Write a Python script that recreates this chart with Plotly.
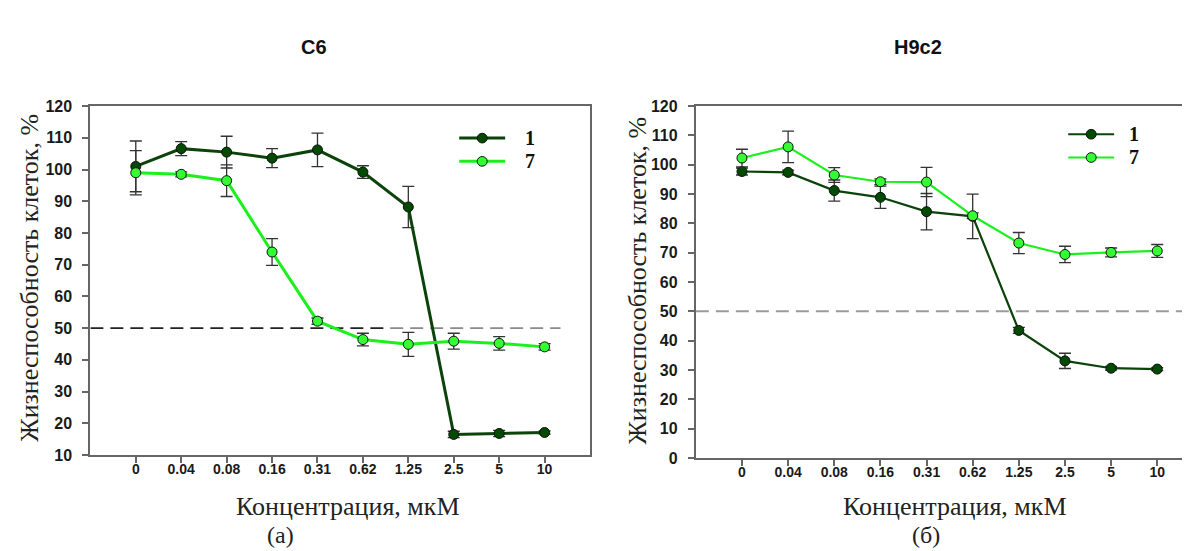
import plotly.graph_objects as go

# ---------------- data ----------------
conc_labels = ["0", "0.04", "0.08", "0.16", "0.31", "0.62", "1.25", "2.5", "5", "10"]

# Panel (а) C6
c6_s1 = [101.0, 106.6, 105.5, 103.6, 106.2, 99.2, 88.2, 16.5, 16.8, 17.1]
c6_s1_err = [8.0, 2.2, 5.0, 3.0, 5.3, 2.0, 6.5, 1.0, 1.0, 0.5]
c6_s7 = [99.0, 98.5, 96.5, 74.0, 52.2, 46.4, 44.9, 45.9, 45.2, 44.1]
c6_s7_err = [7.0, 0.8, 5.0, 4.2, 1.0, 2.0, 3.8, 2.5, 2.1, 1.0]

# Panel (б) H9c2
h9_s1 = [97.7, 97.4, 91.2, 88.9, 84.0, 82.4, 43.5, 33.1, 30.6, 30.3]
h9_s1_err = [1.2, 0.8, 3.6, 3.8, 6.2, 7.6, 1.0, 2.6, 0.6, 0.5]
h9_s7 = [102.3, 106.1, 96.5, 94.2, 94.1, 82.6, 73.3, 69.4, 70.1, 70.6]
h9_s7_err = [3.0, 5.4, 2.5, 1.0, 5.0, 1.0, 3.6, 2.8, 1.5, 2.2]

series_names = ["1", "7"]
threshold = 50

# ---------------- styling ----------------
DARK_LINE = "#0b430b"
DARK_MARK = "#014a01"
LIGHT_LINE = "#1af01a"
LIGHT_MARK = "#33ff33"
ERR_COLOR = "#333333"
AXIS_COLOR = "#666666"

W, H = 1190, 551

def px_x(p):
    return p / W

def px_y(p):
    return 1 - p / H

fig = go.Figure()

def add_series(x, y, err, name, xa, ya, line_color, mark_color, lw):
    fig.add_trace(go.Scatter(
        x=x, y=y, name=name, mode="lines+markers",
        xaxis=xa, yaxis=ya, showlegend=False,
        line=dict(color=line_color, width=lw),
        marker=dict(size=10, color=mark_color, line=dict(color="#111111", width=1)),
        error_y=dict(type="data", array=err, visible=True, color=ERR_COLOR,
                     thickness=1.3, width=6),
        cliponaxis=False,
    ))

add_series(conc_labels, c6_s1, c6_s1_err, series_names[0], "x", "y", DARK_LINE, DARK_MARK, 3)
add_series(conc_labels, c6_s7, c6_s7_err, series_names[1], "x", "y", LIGHT_LINE, LIGHT_MARK, 3)
add_series(conc_labels, h9_s1, h9_s1_err, series_names[0], "x2", "y2", DARK_LINE, DARK_MARK, 2.2)
add_series(conc_labels, h9_s7, h9_s7_err, series_names[1], "x2", "y2", LIGHT_LINE, LIGHT_MARK, 2.2)

sans = "Liberation Sans, Arial, sans-serif"
serif = "Liberation Serif, Times New Roman, serif"

tick_font = dict(family=sans, size=16, color="#1a1a1a", weight="bold")
xtick_font = dict(family=sans, size=14, color="#1a1a1a", weight="bold")

common_x = dict(type="category", categoryorder="array", categoryarray=conc_labels,
                showline=True, linecolor=AXIS_COLOR, linewidth=2, mirror=True,
                ticks="outside", ticklen=6, tickwidth=1.5, tickcolor=AXIS_COLOR,
                showgrid=False, zeroline=False, tickfont=xtick_font, fixedrange=True,
                ticklabelstandoff=-6)
common_y = dict(showline=True, linecolor=AXIS_COLOR, linewidth=2, mirror=True,
                ticks="outside", ticklen=6, tickwidth=1.5, tickcolor=AXIS_COLOR,
                showgrid=False, zeroline=False, tickfont=tick_font, dtick=10,
                ticklabelstandoff=7)

fig.update_layout(
    width=W, height=H,
    margin=dict(l=0, r=0, t=0, b=0),
    paper_bgcolor="white", plot_bgcolor="white",
    xaxis=dict(common_x, domain=[px_x(82.5), px_x(583)], range=[-1, 10], anchor="y"),
    yaxis=dict(common_y, domain=[px_y(453), px_y(93)], range=[10, 120], anchor="x"),
    xaxis2=dict(common_x, domain=[px_x(689), 1.0], range=[-1, 9.84], anchor="y2"),
    yaxis2=dict(common_y, domain=[px_y(456), px_y(93)], range=[0, 120], anchor="x2"),
    showlegend=False,
)

# 50 % reference lines
fig.add_shape(type="line", xref="x", yref="y", x0=-1, x1=5.6, y0=threshold, y1=threshold,
              line=dict(color="#222222", width=1.6, dash="13px,7px"), layer="below")
fig.add_shape(type="line", xref="x", yref="y", x0=5.6, x1=9.35, y0=threshold, y1=threshold,
              line=dict(color="#8a8a8a", width=1.8, dash="13px,7px"), layer="below")
fig.add_shape(type="line", xref="x2", yref="y2", x0=-1, x1=9.84, y0=threshold, y1=threshold,
              line=dict(color="#9a9a9a", width=2, dash="13px,7px"), layer="below")

ann = []

# ---------------- manual legends (key swatches + labels) ----------------
def legend_block(x_left, x_right, y_rows, text_x, lw):
    styles = [(DARK_LINE, DARK_MARK), (LIGHT_LINE, LIGHT_MARK)]
    for name, yy, (lc, mc) in zip(series_names, y_rows, styles):
        fig.add_shape(type="line", xref="paper", yref="paper",
                      x0=px_x(x_left), x1=px_x(x_right), y0=px_y(yy), y1=px_y(yy),
                      line=dict(color=lc, width=lw))
        xc = (x_left + x_right) / 2
        r = 5
        fig.add_shape(type="circle", xref="paper", yref="paper",
                      x0=px_x(xc - r), x1=px_x(xc + r), y0=px_y(yy + r), y1=px_y(yy - r),
                      fillcolor=mc, line=dict(color="#111111", width=1))
        ann.append(dict(text=name, x=px_x(text_x), y=px_y(yy),
                        font=dict(family=serif, size=20, color="#111", weight="bold")))

legend_block(452, 498, [126, 150], 523, 3)
legend_block(1062, 1108, [122, 146], 1128, 2.2)

# panel titles
ann.append(dict(text="C6", x=px_x(307), y=px_y(32), font=dict(family=sans, size=20, color="#111", weight="bold")))
ann.append(dict(text="H9c2", x=px_x(912), y=px_y(32), font=dict(family=sans, size=20, color="#111", weight="bold")))
# y titles
ytitle = "Жизнеспособность клеток, %"
ann.append(dict(text=ytitle, x=px_x(22), y=px_y(270), textangle=-90,
                font=dict(family=serif, size=26, color="#222")))
ann.append(dict(text=ytitle, x=px_x(631), y=px_y(273), textangle=-90,
                font=dict(family=serif, size=26, color="#222")))
# x titles
xtitle = "Концентрация, мкМ"
ann.append(dict(text=xtitle, x=px_x(341), y=px_y(506), font=dict(family=serif, size=26, color="#222")))
ann.append(dict(text=xtitle, x=px_x(949), y=px_y(506), font=dict(family=serif, size=26, color="#222")))
# panel letters
ann.append(dict(text="(а)", x=px_x(273), y=px_y(536), font=dict(family=serif, size=24, color="#222")))
ann.append(dict(text="(б)", x=px_x(920), y=px_y(536), font=dict(family=serif, size=24, color="#222")))

for a in ann:
    a.update(xref="paper", yref="paper", showarrow=False, xanchor="center", yanchor="middle")
fig.update_layout(annotations=ann)

fig.write_html("out.html")
